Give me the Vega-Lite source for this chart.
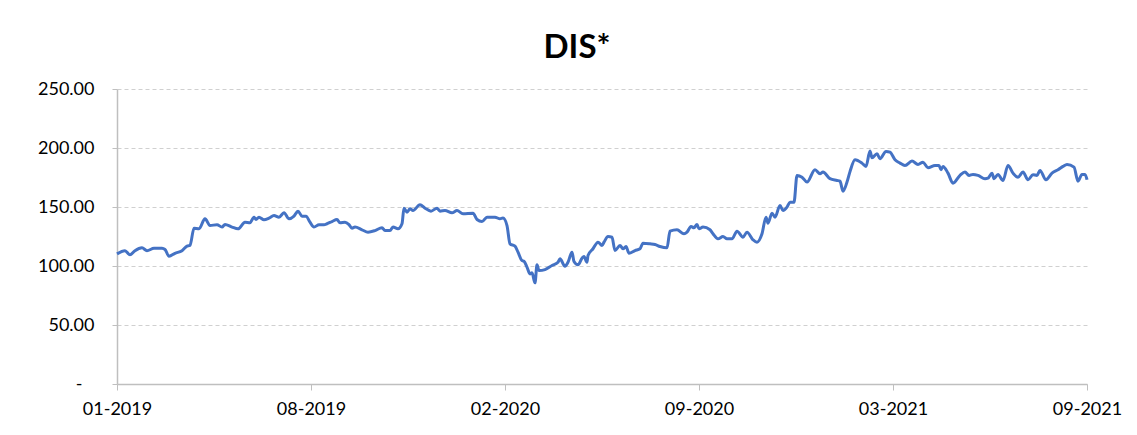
{
  "$schema": "https://vega.github.io/schema/vega-lite/v6.json",
  "width": 970,
  "height": 295,
  "autosize": {"type": "none"},
  "padding": {"left": 117, "top": 89, "right": 50, "bottom": 51},
  "background": "white",
  "title": {"text": "DIS*", "font": "Lato", "fontSize": 33, "fontWeight": "bold", "color": "#000000", "anchor": "middle", "frame": "group", "dx": -25, "baseline": "alphabetic", "offset": -11},
  "config": {"view": {"stroke": null}},
  "data": {"values": [
    {"date": "2019-01-31", "price": 110.3},
    {"date": "2019-02-08", "price": 113.0},
    {"date": "2019-02-13", "price": 109.5},
    {"date": "2019-02-18", "price": 113.0},
    {"date": "2019-02-25", "price": 115.4},
    {"date": "2019-03-02", "price": 113.0},
    {"date": "2019-03-09", "price": 115.0},
    {"date": "2019-03-17", "price": 115.0},
    {"date": "2019-03-20", "price": 114.0},
    {"date": "2019-03-24", "price": 108.3},
    {"date": "2019-03-30", "price": 110.8},
    {"date": "2019-04-06", "price": 113.0},
    {"date": "2019-04-11", "price": 116.8},
    {"date": "2019-04-14", "price": 117.4},
    {"date": "2019-04-18", "price": 132.0},
    {"date": "2019-04-23", "price": 131.5},
    {"date": "2019-04-29", "price": 140.0},
    {"date": "2019-05-04", "price": 134.3},
    {"date": "2019-05-11", "price": 135.0},
    {"date": "2019-05-16", "price": 133.0},
    {"date": "2019-05-19", "price": 135.2},
    {"date": "2019-05-26", "price": 133.0},
    {"date": "2019-06-01", "price": 131.5},
    {"date": "2019-06-08", "price": 137.1},
    {"date": "2019-06-13", "price": 136.6},
    {"date": "2019-06-17", "price": 141.4},
    {"date": "2019-06-19", "price": 139.4},
    {"date": "2019-06-22", "price": 141.4},
    {"date": "2019-06-27", "price": 139.2},
    {"date": "2019-07-02", "price": 140.6},
    {"date": "2019-07-07", "price": 142.8},
    {"date": "2019-07-12", "price": 141.4},
    {"date": "2019-07-17", "price": 145.1},
    {"date": "2019-07-22", "price": 140.0},
    {"date": "2019-07-27", "price": 142.2},
    {"date": "2019-07-31", "price": 146.5},
    {"date": "2019-08-04", "price": 142.2},
    {"date": "2019-08-08", "price": 142.2},
    {"date": "2019-08-12", "price": 137.1},
    {"date": "2019-08-16", "price": 133.0},
    {"date": "2019-08-21", "price": 135.0},
    {"date": "2019-08-26", "price": 135.0},
    {"date": "2019-08-29", "price": 135.8},
    {"date": "2019-09-03", "price": 137.7},
    {"date": "2019-09-08", "price": 139.4},
    {"date": "2019-09-11", "price": 136.6},
    {"date": "2019-09-16", "price": 137.1},
    {"date": "2019-09-20", "price": 135.0},
    {"date": "2019-09-23", "price": 132.0},
    {"date": "2019-09-26", "price": 133.0},
    {"date": "2019-10-03", "price": 130.7},
    {"date": "2019-10-09", "price": 128.7},
    {"date": "2019-10-16", "price": 130.0},
    {"date": "2019-10-23", "price": 132.4},
    {"date": "2019-10-26", "price": 130.0},
    {"date": "2019-10-31", "price": 130.0},
    {"date": "2019-11-03", "price": 133.0},
    {"date": "2019-11-08", "price": 131.5},
    {"date": "2019-11-12", "price": 135.8},
    {"date": "2019-11-14", "price": 149.0},
    {"date": "2019-11-17", "price": 145.6},
    {"date": "2019-11-20", "price": 148.5},
    {"date": "2019-11-23", "price": 147.0},
    {"date": "2019-11-30", "price": 151.9},
    {"date": "2019-12-05", "price": 149.0},
    {"date": "2019-12-11", "price": 146.5},
    {"date": "2019-12-17", "price": 149.0},
    {"date": "2019-12-20", "price": 146.5},
    {"date": "2019-12-25", "price": 147.0},
    {"date": "2020-01-01", "price": 145.1},
    {"date": "2020-01-06", "price": 147.0},
    {"date": "2020-01-12", "price": 144.3},
    {"date": "2020-01-22", "price": 144.8},
    {"date": "2020-01-26", "price": 139.4},
    {"date": "2020-01-31", "price": 137.7},
    {"date": "2020-02-05", "price": 141.4},
    {"date": "2020-02-13", "price": 141.4},
    {"date": "2020-02-18", "price": 140.0},
    {"date": "2020-02-21", "price": 140.6},
    {"date": "2020-02-25", "price": 134.3},
    {"date": "2020-02-28", "price": 118.8},
    {"date": "2020-03-04", "price": 116.8},
    {"date": "2020-03-07", "price": 111.7},
    {"date": "2020-03-11", "price": 104.6},
    {"date": "2020-03-13", "price": 104.0},
    {"date": "2020-03-16", "price": 99.0},
    {"date": "2020-03-19", "price": 93.3},
    {"date": "2020-03-21", "price": 94.2},
    {"date": "2020-03-24", "price": 85.7},
    {"date": "2020-03-26", "price": 101.0},
    {"date": "2020-03-28", "price": 96.1},
    {"date": "2020-04-03", "price": 97.0},
    {"date": "2020-04-10", "price": 100.4},
    {"date": "2020-04-16", "price": 103.2},
    {"date": "2020-04-18", "price": 106.1},
    {"date": "2020-04-23", "price": 99.8},
    {"date": "2020-04-26", "price": 103.2},
    {"date": "2020-04-30", "price": 111.7},
    {"date": "2020-05-02", "price": 103.8},
    {"date": "2020-05-06", "price": 101.0},
    {"date": "2020-05-10", "price": 106.6},
    {"date": "2020-05-12", "price": 108.0},
    {"date": "2020-05-15", "price": 103.2},
    {"date": "2020-05-16", "price": 108.9},
    {"date": "2020-05-21", "price": 114.6},
    {"date": "2020-05-26", "price": 120.2},
    {"date": "2020-05-30", "price": 117.4},
    {"date": "2020-06-01", "price": 120.2},
    {"date": "2020-06-05", "price": 125.0},
    {"date": "2020-06-09", "price": 124.4},
    {"date": "2020-06-12", "price": 113.1},
    {"date": "2020-06-17", "price": 117.4},
    {"date": "2020-06-20", "price": 114.6},
    {"date": "2020-06-23", "price": 116.5},
    {"date": "2020-06-26", "price": 110.8},
    {"date": "2020-07-02", "price": 113.1},
    {"date": "2020-07-07", "price": 114.6},
    {"date": "2020-07-10", "price": 119.3},
    {"date": "2020-07-17", "price": 118.8},
    {"date": "2020-07-22", "price": 118.2},
    {"date": "2020-07-27", "price": 116.5},
    {"date": "2020-08-03", "price": 115.4},
    {"date": "2020-08-06", "price": 129.5},
    {"date": "2020-08-13", "price": 130.7},
    {"date": "2020-08-20", "price": 127.3},
    {"date": "2020-08-23", "price": 128.7},
    {"date": "2020-08-27", "price": 133.5},
    {"date": "2020-08-30", "price": 132.4},
    {"date": "2020-09-02", "price": 135.2},
    {"date": "2020-09-04", "price": 131.5},
    {"date": "2020-09-08", "price": 133.0},
    {"date": "2020-09-15", "price": 130.7},
    {"date": "2020-09-18", "price": 127.3},
    {"date": "2020-09-23", "price": 123.0},
    {"date": "2020-09-28", "price": 125.0},
    {"date": "2020-10-02", "price": 123.0},
    {"date": "2020-10-07", "price": 123.0},
    {"date": "2020-10-12", "price": 129.5},
    {"date": "2020-10-18", "price": 124.4},
    {"date": "2020-10-22", "price": 128.7},
    {"date": "2020-10-28", "price": 122.2},
    {"date": "2020-11-01", "price": 120.2},
    {"date": "2020-11-06", "price": 127.3},
    {"date": "2020-11-10", "price": 141.4},
    {"date": "2020-11-12", "price": 136.3},
    {"date": "2020-11-16", "price": 144.8},
    {"date": "2020-11-19", "price": 141.4},
    {"date": "2020-11-24", "price": 151.3},
    {"date": "2020-11-27", "price": 147.0},
    {"date": "2020-12-01", "price": 149.9},
    {"date": "2020-12-04", "price": 154.1},
    {"date": "2020-12-08", "price": 154.1},
    {"date": "2020-12-11", "price": 176.8},
    {"date": "2020-12-16", "price": 175.3},
    {"date": "2020-12-21", "price": 171.1},
    {"date": "2020-12-29", "price": 181.6},
    {"date": "2021-01-03", "price": 178.2},
    {"date": "2021-01-06", "price": 179.6},
    {"date": "2021-01-13", "price": 174.0},
    {"date": "2021-01-20", "price": 172.5},
    {"date": "2021-01-23", "price": 171.9},
    {"date": "2021-01-26", "price": 163.4},
    {"date": "2021-01-30", "price": 171.1},
    {"date": "2021-02-02", "price": 180.0},
    {"date": "2021-02-07", "price": 190.1},
    {"date": "2021-02-14", "price": 187.2},
    {"date": "2021-02-18", "price": 184.4},
    {"date": "2021-02-22", "price": 197.4},
    {"date": "2021-02-24", "price": 191.8},
    {"date": "2021-03-01", "price": 195.2},
    {"date": "2021-03-04", "price": 190.9},
    {"date": "2021-03-10", "price": 197.1},
    {"date": "2021-03-14", "price": 196.5},
    {"date": "2021-03-19", "price": 190.1},
    {"date": "2021-03-24", "price": 187.2},
    {"date": "2021-03-29", "price": 185.2},
    {"date": "2021-04-05", "price": 188.9},
    {"date": "2021-04-11", "price": 186.1},
    {"date": "2021-04-16", "price": 188.0},
    {"date": "2021-04-21", "price": 183.3},
    {"date": "2021-04-28", "price": 185.2},
    {"date": "2021-05-02", "price": 185.2},
    {"date": "2021-05-04", "price": 181.6},
    {"date": "2021-05-06", "price": 184.4},
    {"date": "2021-05-11", "price": 178.7},
    {"date": "2021-05-16", "price": 170.2},
    {"date": "2021-05-23", "price": 176.8},
    {"date": "2021-05-28", "price": 179.6},
    {"date": "2021-06-01", "price": 176.8},
    {"date": "2021-06-05", "price": 177.6},
    {"date": "2021-06-10", "price": 176.8},
    {"date": "2021-06-17", "price": 174.0},
    {"date": "2021-06-20", "price": 174.5},
    {"date": "2021-06-24", "price": 178.7},
    {"date": "2021-06-26", "price": 174.0},
    {"date": "2021-06-30", "price": 177.6},
    {"date": "2021-07-05", "price": 172.5},
    {"date": "2021-07-10", "price": 185.2},
    {"date": "2021-07-15", "price": 178.7},
    {"date": "2021-07-20", "price": 175.3},
    {"date": "2021-07-25", "price": 179.6},
    {"date": "2021-07-30", "price": 173.1},
    {"date": "2021-08-04", "price": 177.4},
    {"date": "2021-08-08", "price": 176.8},
    {"date": "2021-08-11", "price": 181.0},
    {"date": "2021-08-17", "price": 173.1},
    {"date": "2021-08-23", "price": 178.7},
    {"date": "2021-08-29", "price": 181.6},
    {"date": "2021-09-03", "price": 184.4},
    {"date": "2021-09-07", "price": 186.1},
    {"date": "2021-09-14", "price": 183.8},
    {"date": "2021-09-18", "price": 171.9},
    {"date": "2021-09-22", "price": 177.6},
    {"date": "2021-09-25", "price": 177.6},
    {"date": "2021-09-27", "price": 173.1}
  ]},
  "mark": {"type": "line", "color": "#4472C4", "strokeWidth": 3, "interpolate": "monotone"},
  "encoding": {
    "x": {
      "field": "date", "type": "temporal",
      "scale": {"domain": [{"year": 2019, "month": 1, "date": 31, "utc": true}, {"year": 2021, "month": 9, "date": 27, "utc": true}]},
      "axis": {
        "values": [
          {"year": 2019, "month": 1, "date": 31, "utc": true},
          {"year": 2019, "month": 8, "date": 13, "utc": true},
          {"year": 2020, "month": 2, "date": 23, "utc": true},
          {"year": 2020, "month": 9, "date": 4, "utc": true},
          {"year": 2021, "month": 3, "date": 17, "utc": true},
          {"year": 2021, "month": 9, "date": 27, "utc": true}
        ],
        "format": "%m-%Y",
        "title": null,
        "grid": false,
        "labelFont": "Lato",
        "labelFontSize": 18,
        "labelColor": "#000000",
        "labelPadding": 10,
        "labelFlush": false,
        "labelOverlap": false,
        "tickSize": 6,
        "tickColor": "#BFBFBF",
        "domainColor": "#BFBFBF",
        "domainWidth": 1.5
      }
    },
    "y": {
      "field": "price", "type": "quantitative",
      "scale": {"domain": [0, 250], "nice": false, "zero": true},
      "axis": {
        "values": [0, 50, 100, 150, 200, 250],
        "labelExpr": "datum.value == 0 ? '-' : format(datum.value, '.2f')",
        "labelPadding": {"condition": {"test": "datum.value == 0", "value": 30}, "value": 18},
        "title": null,
        "grid": true,
        "gridColor": "#D0D0D0",
        "gridDash": [4, 3],
        "gridWidth": 1,
        "labelFont": "Lato",
        "labelFontSize": 18,
        "labelColor": "#000000",
        "tickSize": 5,
        "tickColor": "#BFBFBF",
        "domainColor": "#BFBFBF",
        "domainWidth": 1.5
      }
    }
  }
}
